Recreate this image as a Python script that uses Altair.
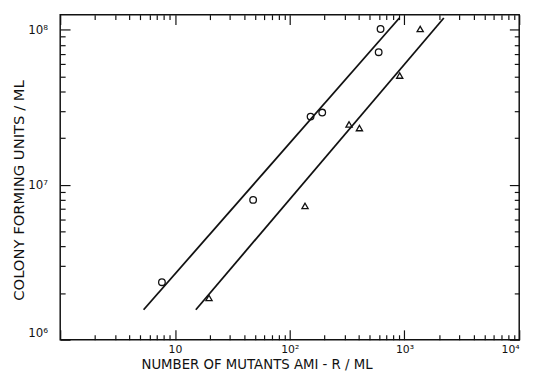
import altair as alt
import pandas as pd

# Data
circle_x = [7.7, 48, 152, 192, 596, 619]
circle_y = [2.35e6, 7.98e6, 2.75e7, 2.92e7, 7.16e7, 1.01e8]
tri_x = [19.8, 136, 329, 405, 909, 1371]
tri_y = [1.86e6, 7.3e6, 2.45e7, 2.32e7, 5.06e7, 1.01e8]
line1_x = [5.33, 903]
line1_y = [1.56e6, 1.19e8]
line2_x = [15.2, 2203]
line2_y = [1.56e6, 1.19e8]

x_label_vals = [10, 100, 1000, 10000]
y_label_vals = [1000000, 10000000, 100000000]
x_tick_vals = [m * 10 ** k for k in range(4) for m in range(1, 10)] + [10000]
y_tick_vals = [m * 10 ** k for k in range(6, 8) for m in range(1, 10)] + [100000000]
major_vals = [1, 10, 100, 1000, 10000, 1000000, 10000000, 100000000]

W, H = 466, 330
FONT = "DejaVu Sans"
INK = "#111111"

circles = pd.DataFrame({"x": circle_x, "y": circle_y})
tris = pd.DataFrame({"x": tri_x, "y": tri_y})
lines = pd.DataFrame({
    "x": line1_x + line2_x,
    "y": line1_y + line2_y,
    "id": ["a", "a", "b", "b"],
})

xs = alt.Scale(type="log", domain=[1, 10000], nice=False)
ys = alt.Scale(type="log", domain=[1000000, 125000000], nice=False)

major_test = "indexof(" + str(major_vals) + ", datum.value) >= 0"
tick_size = {"condition": {"test": major_test, "value": 10}, "value": 5}

x_lab_expr = ("datum.value == 10 ? '10' : datum.value == 100 ? '10\u00b2' : "
              "datum.value == 1000 ? '10\u00b3' : datum.value == 10000 ? '10\u2074' : ''")
y_lab_expr = ("datum.value == 1000000 ? '10\u2076' : datum.value == 10000000 ? '10\u2077' : "
              "datum.value == 100000000 ? '10\u2078' : ''")


def tick_axis(orient, vals, offset):
    return alt.Axis(orient=orient, values=vals, labels=False, title=None, domain=False,
                    grid=False, offset=offset, tickSize=tick_size, tickColor=INK,
                    tickWidth=1.2)


line_layer = alt.Chart(lines).mark_line(color=INK, strokeWidth=1.8).encode(
    x=alt.X("x:Q", scale=xs, axis=alt.Axis(
        orient="bottom", values=x_label_vals, labelExpr=x_lab_expr, ticks=False,
        domain=False, grid=False, labelFont=FONT, labelFontSize=11, labelColor=INK,
        labelPadding=4, title="NUMBER OF MUTANTS AMI - R / ML", titleFont=FONT,
        titleFontSize=13.5, titleFontWeight="normal", titleColor=INK, titleAlign="left",
        titleBaseline="middle", titleX=82, titleY=25)),
    y=alt.Y("y:Q", scale=ys, axis=alt.Axis(
        orient="left", values=y_label_vals, labelExpr=y_lab_expr, ticks=False,
        domain=False, grid=False, labelFont=FONT, labelFontSize=12, labelColor=INK,
        labelPadding=13,
        labelOffset={"condition": {"test": "datum.value == 1000000", "value": -7}, "value": 0},
        title="COLONY FORMING UNITS / ML", titleFont=FONT,
        titleFontSize=15, titleFontWeight="normal", titleColor=INK, titleAngle=-90,
        titleAlign="center", titleBaseline="middle", titleX=-42, titleY=178)),
    detail="id:N",
)

circle_layer = alt.Chart(circles).mark_point(
    shape="circle", filled=False, color=INK, size=45, strokeWidth=1.3, opacity=1
).encode(
    x=alt.X("x:Q", scale=xs, axis=tick_axis("top", x_tick_vals, -H)),
    y=alt.Y("y:Q", scale=ys, axis=tick_axis("right", y_tick_vals, -W)),
)

tri_layer = alt.Chart(tris).mark_point(
    shape="triangle-up", filled=False, color=INK, size=40, strokeWidth=1.3, opacity=1
).encode(
    x=alt.X("x:Q", scale=xs, axis=tick_axis("bottom", x_tick_vals, -H)),
    y=alt.Y("y:Q", scale=ys, axis=tick_axis("left", y_tick_vals, -W)),
)

chart = alt.layer(line_layer, circle_layer, tri_layer).resolve_axis(
    x="independent", y="independent"
).properties(
    width=W, height=H,
    autosize=alt.AutoSizeParams(type="none"),
    padding={"left": 53, "top": 4, "right": 14, "bottom": 30},
).configure_view(stroke=INK, strokeWidth=1.5)

chart.save("out.html", embed_options={"renderer": "svg", "actions": False})
